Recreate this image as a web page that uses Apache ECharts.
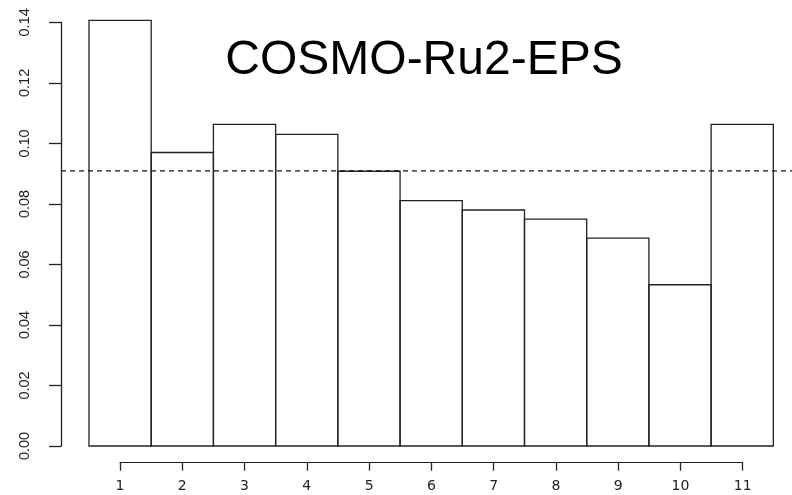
<!DOCTYPE html>
<html>
<head>
<meta charset="utf-8">
<script src="https://cdn.jsdelivr.net/npm/echarts@6/dist/echarts.min.js"></script>
<style>
html,body{margin:0;padding:0;background:#fff;}
#chart{width:792px;height:495px;}
</style>
</head>
<body>
<div id="chart"></div>
<script>
// Data
const ranks = [1, 2, 3, 4, 5, 6, 7, 8, 9, 10, 11];
const freqs = [0.1407, 0.0970, 0.1063, 0.1030, 0.0908, 0.0811, 0.0780, 0.0750, 0.0687, 0.0533, 0.1063];
const expectedLevel = 0.0909;
const yTicks = [0.00, 0.02, 0.04, 0.06, 0.08, 0.10, 0.12, 0.14];
const titleText = 'COSMO-Ru2-EPS';

const xMin = 0.05, xMax = 11.8;
const chart = echarts.init(document.getElementById('chart'), null, {renderer: 'canvas'});
const ink = '#222';

const option = {
  backgroundColor: '#fff',
  animation: false,
  title: {
    text: titleText,
    left: 424,
    top: 37,
    textAlign: 'center',
    padding: 0,
    textStyle: {fontFamily: 'Liberation Sans', fontSize: 48, fontWeight: 'normal', color: '#000'}
  },
  grid: [
    {left: 61, right: 0, top: 22.4, bottom: 49},
    {left: 120, right: 49.3, top: 300, bottom: 32.3}
  ],
  xAxis: [
    {gridIndex: 0, type: 'value', min: xMin, max: xMax, show: false},
    {
      gridIndex: 1, type: 'value', min: 1, max: 11, interval: 1,
      axisLine: {show: true, lineStyle: {color: ink, width: 1.1}},
      axisTick: {show: true, length: 8, lineStyle: {color: ink, width: 1.3}},
      axisLabel: {margin: 17, fontFamily: 'DejaVu Sans', fontSize: 14, color: ink},
      splitLine: {show: false}
    }
  ],
  yAxis: [
    {
      gridIndex: 0, type: 'value', min: yTicks[0], max: yTicks[yTicks.length - 1], interval: 0.02,
      axisLine: {show: true, lineStyle: {color: ink, width: 1.3}},
      axisTick: {show: true, length: 12, lineStyle: {color: ink, width: 1.3}},
      axisLabel: {rotate: 90, margin: 29, fontFamily: 'Liberation Sans', fontSize: 14.5, color: ink,
        formatter: v => v.toFixed(2)},
      splitLine: {show: false}
    },
    {gridIndex: 1, type: 'value', show: false, min: 0, max: 1}
  ],
  series: [
    {
      type: 'custom',
      xAxisIndex: 0, yAxisIndex: 0,
      data: ranks.map((r, i) => [r, freqs[i]]),
      renderItem: function (params, api) {
        const x = api.value(0), v = api.value(1);
        const p0 = api.coord([x - 0.5, v]);
        const p1 = api.coord([x + 0.5, 0]);
        return {
          type: 'rect',
          shape: {x: p0[0], y: p0[1], width: p1[0] - p0[0], height: p1[1] - p0[1]},
          style: {fill: 'none', stroke: ink, lineWidth: 1.3}
        };
      }
    },
    {
      type: 'line',
      xAxisIndex: 0, yAxisIndex: 0,
      data: [[xMin, expectedLevel], [xMax, expectedLevel]],
      symbol: 'none',
      silent: true,
      lineStyle: {color: '#111', type: [5, 4], width: 1.2}
    }
  ]
};
chart.setOption(option);
</script>
</body>
</html>
